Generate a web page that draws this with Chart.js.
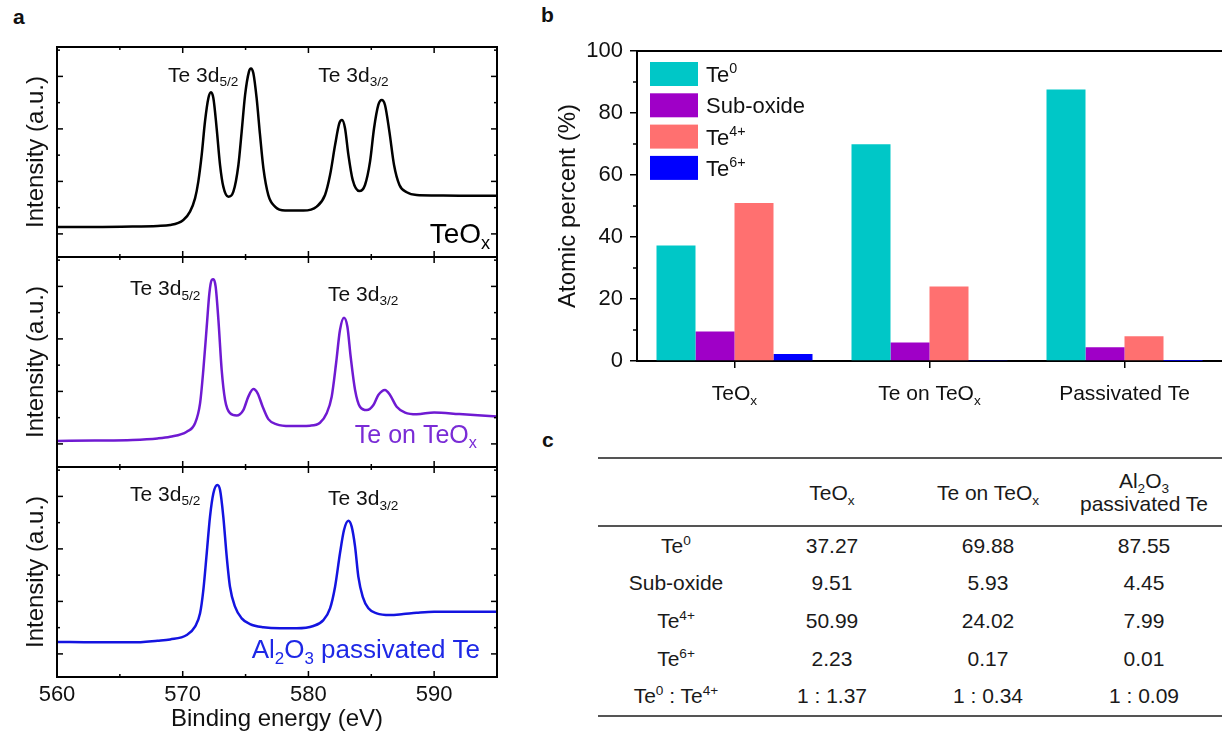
<!DOCTYPE html>
<html>
<head>
<meta charset="utf-8">
<script src="https://cdn.jsdelivr.net/npm/chart.js@4.4.1/dist/chart.umd.min.js"></script>
<style>
  body { margin: 0; width: 1222px; height: 736px; position: relative; background: #fff; overflow: hidden;
         font-family: "Liberation Sans", Arial, sans-serif; }
  canvas { position: absolute; }
  .tag { position: absolute; font-weight: bold; font-size: 21px; line-height: 1; color: #111; }
  #tbl { position: absolute; left: 598px; top: 457px; width: 624px; border-collapse: collapse;
         table-layout: fixed; font-size: 21px; color: #1a1a1a; }
  #tbl th, #tbl td { padding: 0; text-align: center; font-weight: normal; }
  #tbl thead th { height: 66px; line-height: 23px; border-top: 2px solid #555; border-bottom: 2px solid #555; }
  #tbl tbody td { height: 37.6px; }
  #tbl tbody tr:last-child td { border-bottom: 2px solid #555; }
  #tbl sub, #tbl sup { font-size: 0.65em; line-height: 0; }
</style>
</head>
<body>
<div class="tag" style="left:13px;top:6px">a</div>
<div class="tag" style="left:541px;top:4px">b</div>
<div class="tag" style="left:542px;top:429px">c</div>

<canvas id="specTop" width="510" height="262" style="left:0;top:0"></canvas>
<canvas id="specMid" width="510" height="220" style="left:0;top:252px"></canvas>
<canvas id="specBot" width="510" height="274" style="left:0;top:462px"></canvas>
<canvas id="bars" width="682" height="440" style="left:540px;top:0"></canvas>

<table id="tbl">
  <colgroup><col style="width:156px"><col style="width:156px"><col style="width:156px"><col style="width:156px"></colgroup>
  <thead><tr id="tblHead"></tr></thead>
  <tbody id="tblBody"></tbody>
</table>

<script>
// ---- panel a : XPS Te 3d spectra (binding energy in eV, intensity in a.u.) ----
const teoxE = [560, 563, 566, 568, 569, 570.05, 570.58, 570.98, 571.24, 571.51, 571.77, 572.04, 572.25, 572.44,
  572.70, 572.97, 573.23, 573.63, 574.03, 574.43, 574.69, 574.96, 575.27, 575.43, 575.62, 575.88, 576.15, 576.42,
  576.81, 577.34, 578.14, 579.60, 580.66, 581.32, 581.72, 582.12, 582.46, 582.67, 582.91, 583.18, 583.52, 584.05,
  584.50, 584.90, 585.22, 585.56, 585.83, 586.09, 586.44, 586.81, 587.24, 587.82, 588.61, 590, 592, 595];
const teoxI = [14.3, 14.3, 14.5, 14.8, 15.2, 17.6, 21.6, 27.9, 35.9, 48.6, 64.4, 75.6, 78.4, 75.6,
  61.3, 43.8, 33.5, 28.7, 31.1, 43.8, 59.7, 77.1, 88.3, 89.8, 87.5, 75.6, 58.1, 42.2,
  29.5, 24.0, 22.1, 22.1, 24.0, 29.5, 39.0, 53.3, 63.7, 65.2, 61.3, 48.6, 36.7, 31.4,
  34.3, 45.4, 61.3, 72.4, 74.8, 72.4, 59.7, 43.8, 34.3, 30.8, 29.5, 29.3, 29.2, 29.2];

const teOnE = [560, 563, 566, 568, 569, 570.32, 570.98, 571.38, 571.64, 571.91, 572.12, 572.30, 572.44, 572.62,
  572.84, 573.10, 573.37, 573.76, 574.29, 574.82, 575.22, 575.62, 575.96, 576.36, 576.81, 577.48, 578.54, 580.13,
  580.92, 581.45, 581.85, 582.20, 582.51, 582.83, 583.10, 583.36, 583.71, 584.10, 584.64, 585.17, 585.56, 586.09,
  586.49, 587.02, 587.69, 588.61, 590.0, 592, 595];
const teOnI = [12.4, 12.6, 12.9, 13.6, 14.4, 16.8, 20.8, 30.3, 46.2, 66.8, 82.7, 89.0, 89.4, 85.9,
  70.0, 46.2, 31.9, 25.6, 24.5, 27.1, 33.5, 37.1, 35.1, 28.7, 22.8, 20.3, 19.5, 19.7,
  21.1, 25.6, 33.5, 49.4, 65.2, 71.1, 66.8, 52.5, 36.7, 28.7, 27.1, 29.5, 34.3, 36.7,
  34.3, 28.7, 25.9, 25.1, 26.0, 25.2, 24.0];

const passE = [560, 563, 566, 568, 569, 570.32, 570.98, 571.38, 571.64, 571.91, 572.17, 572.44, 572.76, 572.97,
  573.23, 573.50, 573.76, 574.16, 574.69, 575.35, 576.41, 577.74, 579.07, 580.39, 581.19, 581.72, 582.12, 582.51,
  582.83, 583.18, 583.44, 583.71, 583.97, 584.32, 584.77, 585.43, 586.49, 587.55, 588.61, 590, 592, 595];
const passI = [16.7, 16.5, 16.5, 17.3, 17.9, 20.0, 24.0, 30.3, 41.4, 58.9, 76.3, 87.5, 91.4, 89.0,
  76.3, 57.3, 43.0, 33.5, 27.9, 25.2, 23.7, 23.2, 23.2, 24.3, 27.1, 32.7, 43.0, 58.9,
  70.0, 74.4, 71.6, 62.1, 47.8, 38.2, 32.7, 30.3, 29.5, 30.0, 30.6, 31.1, 31.1, 31.1];

const energyMajor = [570, 580, 590];
const energyMinor = [565, 575, 585];
const intensityMajor = [11, 36, 61, 86];
const intensityMinor = [23.5, 48.5, 73.5, 98.5];

// ---- panel b / c : atomic percent ----
const samples = ['TeOx', 'Te on TeOx', 'Passivated Te'];
const tableHeads = ['TeOx', 'Te on TeOx', 'Al2O3 passivated Te'];
const te0 = [37.27, 69.88, 87.55];
const subOxide = [9.51, 5.93, 4.45];
const te4 = [50.99, 24.02, 7.99];
const te6 = [2.23, 0.17, 0.01];
const percentMinor = [10, 30, 50, 70, 90];

const FONT = '"Liberation Sans", Arial, sans-serif';

function drawRich(ctx, parts, x, y, size, align, color) {
  let w = 0;
  parts.forEach(([t, k]) => {
    ctx.font = (k ? size * 0.65 : size) + 'px ' + FONT;
    w += ctx.measureText(t).width;
  });
  let cx = align === 'right' ? x - w : align === 'center' ? x - w / 2 : x;
  ctx.textAlign = 'left';
  ctx.textBaseline = 'alphabetic';
  ctx.fillStyle = color;
  parts.forEach(([t, k]) => {
    ctx.font = (k ? size * 0.65 : size) + 'px ' + FONT;
    const dy = k === 'sub' ? size * 0.22 : k === 'sup' ? -size * 0.4 : 0;
    ctx.fillText(t, cx, y + dy);
    cx += ctx.measureText(t).width;
  });
}

// "TeOx" -> TeO + subscript x
function oxParts(label) {
  if (label.endsWith('Ox')) return [[label.slice(0, -1), ''], ['x', 'sub']];
  return [[label, '']];
}

const framePlugin = {
  id: 'frame',
  afterDatasetsDraw(chart, args, opts) {
    const { ctx, chartArea: a, scales: { x, y } } = chart;
    ctx.save();
    ctx.strokeStyle = '#000';
    ctx.lineWidth = 2;
    ctx.strokeRect(a.left, a.top, a.right - a.left, a.bottom - a.top);
    ctx.lineWidth = 1.5;
    const tick = (px, py, dx, dy) => {
      ctx.beginPath(); ctx.moveTo(px, py); ctx.lineTo(px + dx, py + dy); ctx.stroke();
    };
    energyMajor.forEach(v => { const p = x.getPixelForValue(v); tick(p, a.bottom, 0, -6); tick(p, a.top, 0, 6); });
    energyMinor.forEach(v => { const p = x.getPixelForValue(v); tick(p, a.bottom, 0, -3); tick(p, a.top, 0, 3); });
    intensityMajor.forEach(v => { const p = y.getPixelForValue(v); tick(a.left, p, 6, 0); tick(a.right, p, -6, 0); });
    intensityMinor.forEach(v => { const p = y.getPixelForValue(v); tick(a.left, p, 3, 0); tick(a.right, p, -3, 0); });
    (opts.notes || []).forEach(n => {
      drawRich(ctx, n.parts, x.getPixelForValue(n.x), y.getPixelForValue(n.y), n.size, n.align, n.color);
    });
    ctx.restore();
  }
};

function spectrum(id, E, I, color, notes, padTop, isBottom) {
  new Chart(document.getElementById(id), {
    type: 'line',
    data: {
      datasets: [{
        data: E.map((e, i) => ({ x: e, y: I[i] })),
        borderColor: color, borderWidth: 2.5, pointRadius: 0,
        cubicInterpolationMode: 'monotone', tension: 0.4
      }]
    },
    options: {
      responsive: false, animation: false, events: [],
      layout: { padding: { top: padTop, right: 13, bottom: isBottom ? 0 : 5, left: 0 } },
      plugins: { legend: { display: false }, tooltip: { enabled: false }, frame: { notes } },
      scales: {
        x: {
          type: 'linear', min: 560, max: 595, display: isBottom,
          grid: { display: false, drawTicks: false }, border: { display: false },
          ticks: { stepSize: 10, includeBounds: false, maxRotation: 0, padding: 5,
                   font: { size: 22, family: FONT }, color: '#111' },
          title: { display: true, text: 'Binding energy (eV)', color: '#111',
                   font: { size: 24, family: FONT }, padding: { top: 0, bottom: 2 } },
          afterFit: s => { s.height = isBottom ? 59 : 0; }
        },
        y: {
          min: 0, max: 100,
          grid: { display: false, drawTicks: false }, border: { display: false }, ticks: { display: false },
          title: { display: true, text: 'Intensity (a.u.)', color: '#111',
                   font: { size: 24, family: FONT }, padding: { top: 22, bottom: 0 } },
          afterFit: s => { s.width = 57; }
        }
      }
    },
    plugins: [framePlugin]
  });
}

const d52 = [['Te 3d', ''], ['5/2', 'sub']];
const d32 = [['Te 3d', ''], ['3/2', 'sub']];
const ink = '#111';

spectrum('specTop', teoxE, teoxI, '#000', [
  { parts: d52, x: 568.83, y: 83.5, size: 21, align: 'left', color: ink },
  { parts: d32, x: 580.79, y: 83.5, size: 21, align: 'left', color: ink },
  { parts: oxParts('TeOx'), x: 594.45, y: 6.7, size: 28, align: 'right', color: '#000' }
], 47, false);

spectrum('specMid', teOnE, teOnI, '#6f1ad2', [
  { parts: d52, x: 565.81, y: 81.9, size: 21, align: 'left', color: ink },
  { parts: d32, x: 581.56, y: 79.2, size: 21, align: 'left', color: ink },
  { parts: oxParts('Te on TeOx'), x: 593.4, y: 11.6, size: 25, align: 'right', color: '#7a2cd6' }
], 5, false);

spectrum('specBot', passE, passI, '#1414e0', [
  { parts: d52, x: 565.81, y: 83.9, size: 21, align: 'left', color: ink },
  { parts: d32, x: 581.56, y: 81.9, size: 21, align: 'left', color: ink },
  { parts: [['Al', ''], ['2', 'sub'], ['O', ''], ['3', 'sub'], [' passivated Te', '']],
    x: 593.65, y: 9.0, size: 26, align: 'right', color: '#1e28e6' }
], 5, true);

// ---- panel b ----
const legendParts = [
  [['Te', ''], ['0', 'sup']],
  [['Sub-oxide', '']],
  [['Te', ''], ['4+', 'sup']],
  [['Te', ''], ['6+', 'sup']]
];

const barExtras = {
  id: 'barExtras',
  afterDraw(chart) {
    const { ctx, chartArea: a, scales: { x, y } } = chart;
    ctx.save();
    ctx.strokeStyle = '#000';
    ctx.lineWidth = 2;
    ctx.beginPath(); ctx.moveTo(a.left, a.top); ctx.lineTo(a.right, a.top); ctx.stroke();
    ctx.lineWidth = 1.5;
    percentMinor.forEach(v => {
      const p = y.getPixelForValue(v);
      ctx.beginPath(); ctx.moveTo(a.left, p); ctx.lineTo(a.left - 4, p); ctx.stroke();
    });
    samples.forEach((s, i) => {
      drawRich(ctx, oxParts(s), x.getPixelForValue(i), a.bottom + 39, 21, 'center', '#111');
    });
    chart.data.datasets.forEach((ds, i) => {
      const cy = a.top + 23 + i * 31.3;
      ctx.fillStyle = ds.backgroundColor;
      ctx.fillRect(a.left + 13, cy - 12, 48, 24);
      drawRich(ctx, legendParts[i], a.left + 69, cy + 8, 22, 'left', '#111');
    });
    ctx.restore();
  }
};

new Chart(document.getElementById('bars'), {
  type: 'bar',
  data: {
    labels: samples,
    datasets: [
      { label: 'Te0', data: te0, backgroundColor: '#00c7c7' },
      { label: 'Sub-oxide', data: subOxide, backgroundColor: '#9f00c7' },
      { label: 'Te4+', data: te4, backgroundColor: '#ff7070' },
      { label: 'Te6+', data: te6, backgroundColor: '#0000ff' }
    ]
  },
  options: {
    responsive: false, animation: false, events: [],
    datasets: { bar: { categoryPercentage: 0.8, barPercentage: 1 } },
    layout: { padding: { top: 51, right: 0, bottom: 0, left: 0 } },
    plugins: { legend: { display: false }, tooltip: { enabled: false } },
    scales: {
      x: {
        grid: { display: true, drawOnChartArea: false, drawTicks: true, tickLength: 7, offset: false,
                color: '#000', lineWidth: 1.5 },
        border: { display: true, color: '#000', width: 2 },
        ticks: { callback: () => '' },
        afterFit: s => { s.height = 79; }
      },
      y: {
        min: 0, max: 100,
        ticks: { stepSize: 20, padding: 7, font: { size: 22, family: FONT }, color: '#111' },
        grid: { drawOnChartArea: false, tickLength: 7, color: '#000', lineWidth: 1.5 },
        border: { color: '#000', width: 2 },
        title: { display: true, text: 'Atomic percent (%)', color: '#111',
                 font: { size: 24, family: FONT }, padding: { top: 14, bottom: 0 } },
        afterFit: s => { s.width = 97; }
      }
    }
  },
  plugins: [barExtras]
});

// ---- panel c : table ----
function richHtml(t) {
  return t.replace(/Ox\b/g, 'O<sub>x</sub>').replace('Al2O3 ', 'Al<sub>2</sub>O<sub>3</sub><br>');
}
const head = document.getElementById('tblHead');
head.innerHTML = '<th></th>' + tableHeads.map(h => '<th>' + richHtml(h) + '</th>').join('');
const rows = [
  ['Te<sup>0</sup>', te0.map(v => v.toFixed(2))],
  ['Sub-oxide', subOxide.map(v => v.toFixed(2))],
  ['Te<sup>4+</sup>', te4.map(v => v.toFixed(2))],
  ['Te<sup>6+</sup>', te6.map(v => v.toFixed(2))],
  ['Te<sup>0</sup> : Te<sup>4+</sup>', te4.map((v, i) => '1 : ' + (v / te0[i]).toFixed(2))]
];
document.getElementById('tblBody').innerHTML = rows.map(([name, vals]) =>
  '<tr><td>' + name + '</td>' + vals.map(v => '<td>' + v + '</td>').join('') + '</tr>').join('');
</script>
</body>
</html>
